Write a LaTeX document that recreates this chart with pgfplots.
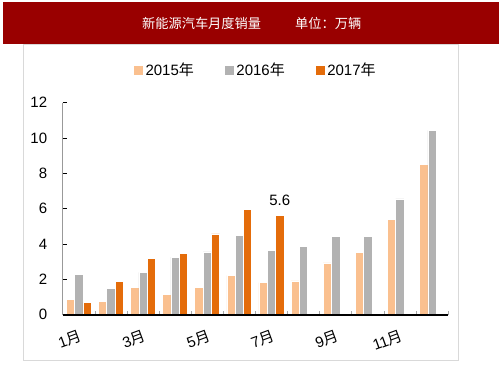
\documentclass[border=0pt]{standalone}
\usepackage{fontspec}
\setmainfont{Liberation Sans}
\newfontfamily\cjk{Noto Sans CJK SC}
\usepackage{pgfplots}
\pgfplotsset{compat=1.18}
\definecolor{c15}{RGB}{250,192,143}
\definecolor{c16}{RGB}{178,178,178}
\definecolor{c17}{RGB}{228,108,10}
\definecolor{banner}{RGB}{153,0,0}
\pgfplotsset{sq legend/.style={legend image code/.code={\fill[##1] (0pt,-5pt) rectangle (10pt,5pt);}}}
\begin{document}
\begin{tikzpicture}
\path[use as bounding box] (0pt,0pt) rectangle (503pt,378pt);
\fill[banner] (3pt,334pt) rectangle (499pt,376pt);
\draw[black!15] (23pt,18pt) rectangle (458pt,334pt);
\node[white, anchor=west, inner sep=0pt, font=\cjk\fontsize{13.2}{15}\selectfont] at (142pt,355pt) {新能源汽车月度销量};
\node[white, anchor=west, inner sep=0pt, font=\cjk\fontsize{13.2}{15}\selectfont] at (295pt,355pt) {单位：万辆};
\begin{axis}[
  at={(62.7pt,63.3pt)}, anchor=south west,
  scale only axis, width=385.3pt, height=212pt,
  axis on top,
  ybar=0pt, bar width=8.3pt,
  xmin=0.5, xmax=12.5, ymin=0, ymax=12,
  axis x line*=bottom, axis y line*=left,
  x axis line style={black, line width=1.8pt, -},
  y axis line style={black!40, line width=0.8pt, -},
  tick align=inside, major tick length=4pt, minor tick length=4pt,
  ytick={0,2,...,12},
  y tick style={black, line width=0.8pt},
  xtick={1,3,5,7,9,11},
  xticklabels={{1\cjk 月},{3\cjk 月},{5\cjk 月},{7\cjk 月},{9\cjk 月},{11\cjk 月}},
  minor xtick={1.5,2.5,...,12.5},
  x tick style={draw=none},
  minor x tick style={draw=black!35, line width=0.5pt},
  /pgf/number format/assume math mode=true,
  ticklabel style={font=\fontsize{15}{18}\selectfont},
  yticklabel style={xshift=-12pt},
  xticklabel style={yshift=-14pt, rotate=20, anchor=north east, inner sep=0pt},
  legend style={at={(0.5,1.154)}, anchor=center, draw=none, fill=none, legend columns=3,
    font=\fontsize{15}{18}\selectfont,
    /tikz/every even column/.append style={column sep=28pt}},
  every axis plot/.append style={draw=white, line width=0.5pt, sq legend},
]
\addplot[fill=c15] coordinates {(1,0.87) (2,0.75) (3,1.55) (4,1.15) (5,1.55) (6,2.23) (7,1.81) (8,1.92) (9,2.94) (10,3.51) (11,5.41) (12,8.53)};
\addplot[fill=c16] coordinates {(1,2.28) (2,1.47) (3,2.40) (4,3.26) (5,3.55) (6,4.49) (7,3.62) (8,3.85) (9,4.43) (10,4.43) (11,6.55) (12,10.43)};
\addplot[fill=c17] coordinates {(1,0.68) (2,1.89) (3,3.19) (4,3.49) (5,4.58) (6,5.96) (7,5.64)};
\legend{{2015\cjk 年},{2016\cjk 年},{2017\cjk 年}}
\node[anchor=south, font=\fontsize{15}{18}\selectfont, xshift=8.3pt, yshift=6pt] at (axis cs:7,5.64) {5.6};
\end{axis}
\end{tikzpicture}
\end{document}
